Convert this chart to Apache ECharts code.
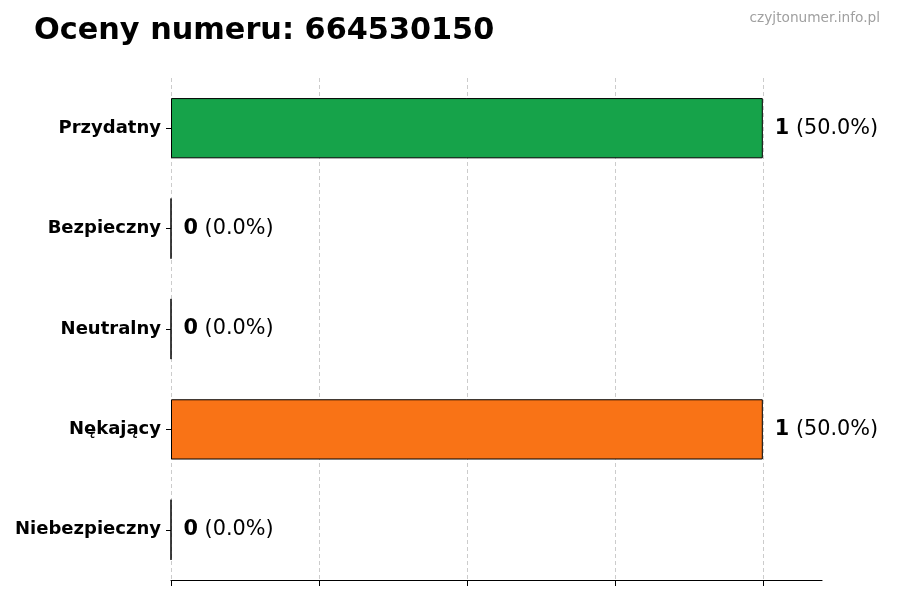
<!DOCTYPE html>
<html><head><meta charset="utf-8">
<script src="https://cdn.jsdelivr.net/npm/echarts@6/dist/echarts.min.js"></script>
<style>html,body{margin:0;padding:0;background:#fff}#c{width:900px;height:600px}</style>
</head><body><div id="c"></div>
<script>
const categories = ['Przydatny', 'Bezpieczny', 'Neutralny', 'Nękający', 'Niebezpieczny'];
const counts = [1, 0, 0, 1, 0];
const percents = ['50.0%', '0.0%', '0.0%', '50.0%', '0.0%'];
const barColors = ['#16a34a', '#22c55e', '#9ca3af', '#f97316', '#dc2626'];
const gridTicks = [0, 0.25, 0.5, 0.75, 1.0];
const titleText = 'Oceny numeru: 664530150';
const watermark = 'czyjtonumer.info.pl';

const chart = echarts.init(document.getElementById('c'), null, {renderer: 'canvas'});
const FONT = 'DejaVu Sans';
chart.setOption({
  animation: false,
  textStyle: {fontFamily: FONT},
  title: [
    {text: titleText, left: 29, top: 11, textStyle: {fontFamily: FONT, fontSize: 30.3, fontWeight: 'bold', color: '#000'}},
    {text: watermark, right: 15, top: 6, textStyle: {fontFamily: FONT, fontSize: 13.7, fontWeight: 'normal', color: '#a0a0a0'}}
  ],
  grid: {left: 171, right: 78, top: 78, bottom: 20, containLabel: false},
  xAxis: {
    type: 'value', min: 0, max: 1.1,
    axisLine: {show: true, lineStyle: {color: '#000', width: 1.2}},
    axisTick: {show: true, length: 6, lineStyle: {color: '#000'}, customValues: gridTicks},
    axisLabel: {show: false},
    splitLine: {show: false}
  },
  yAxis: {
    type: 'category', data: categories, inverse: true,
    axisLine: {show: false},
    axisTick: {show: true, alignWithLabel: true, length: 5, lineStyle: {color: '#000'}},
    axisLabel: {fontFamily: FONT, fontSize: 18, fontWeight: 'bold', color: '#000', margin: 10}
  },
  series: [{
    type: 'bar',
    data: counts.map((v, i) => ({value: v, itemStyle: {color: barColors[i]}})),
    barWidth: '60%',
    itemStyle: {borderColor: '#000', borderWidth: 1},
    label: {
      show: true, position: 'right', distance: 12,
      formatter: p => '{b|' + counts[p.dataIndex] + '}{n| (' + percents[p.dataIndex] + ')}',
      rich: {
        b: {fontFamily: FONT, fontSize: 20.8, fontWeight: 'bold', color: '#000'},
        n: {fontFamily: FONT, fontSize: 20.8, color: '#000'}
      }
    },
    markLine: {
      silent: true, symbol: 'none', label: {show: false},
      lineStyle: {color: '#cccccc', type: [4, 3], width: 1},
      data: gridTicks.map(t => ({xAxis: t})),
      z: 0
    }
  }]
});
</script></body></html>
